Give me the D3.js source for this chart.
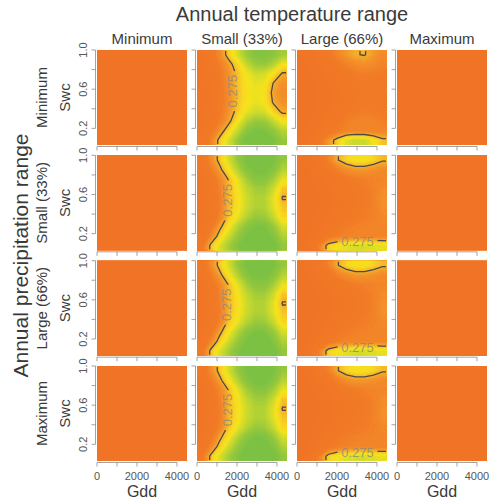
<!DOCTYPE html>
<html><head><meta charset="utf-8">
<script src="https://cdn.jsdelivr.net/npm/d3@7"></script>
<style>
html,body{margin:0;padding:0;background:#fff;}
svg{display:block;font-family:"Liberation Sans",Arial,sans-serif;}
</style></head>
<body><svg id="chart" width="494" height="500"></svg>
<script>
// ---------------- DATA ----------------
const tempRanges = ["Minimum", "Small (33%)", "Large (66%)", "Maximum"];
const precipRanges = ["Minimum", "Small (33%)", "Large (66%)", "Maximum"];
const gddDomain = [0, 4500];
const swcDomain = [0.03, 1.0];
const gddTicks = [0, 1000, 2000, 3000, 4000];
const gddTickLabels = [0, 2000, 4000];
const swcTicks = [0.2, 0.4, 0.6, 0.8, 1.0];
const swcTickLabels = [0.2, 0.6, 1.0];
const contourLevel = 0.275;
const xTitle = "Gdd", yTitle = "Swc";
const topTitle = "Annual temperature range";
const sideTitle = "Annual precipitation range";

// grids: rows from Swc high (top) to low (bottom), columns Gdd low to high
const gridFlat = [[0.205]];
const gridSmallTop = [
  [0.225,0.242,0.260,0.282,0.300,0.318,0.330,0.332,0.325,0.315],
  [0.222,0.236,0.252,0.268,0.285,0.305,0.318,0.320,0.310,0.292],
  [0.220,0.232,0.247,0.264,0.278,0.292,0.302,0.300,0.288,0.273],
  [0.218,0.230,0.245,0.262,0.279,0.290,0.296,0.293,0.274,0.264],
  [0.217,0.229,0.244,0.261,0.278,0.289,0.294,0.290,0.270,0.261],
  [0.217,0.229,0.244,0.262,0.279,0.290,0.295,0.291,0.273,0.264],
  [0.218,0.231,0.247,0.264,0.281,0.295,0.302,0.300,0.284,0.272],
  [0.221,0.236,0.252,0.270,0.290,0.310,0.320,0.318,0.306,0.290],
  [0.226,0.245,0.265,0.285,0.305,0.325,0.335,0.333,0.322,0.310],
  [0.232,0.255,0.280,0.300,0.320,0.340,0.350,0.347,0.335,0.320]
];
const gridSmall = [
  [0.235,0.260,0.280,0.300,0.320,0.335,0.345,0.345,0.335,0.320],
  [0.228,0.250,0.270,0.290,0.310,0.328,0.338,0.338,0.328,0.310],
  [0.222,0.240,0.258,0.276,0.295,0.315,0.327,0.327,0.315,0.295],
  [0.220,0.236,0.254,0.276,0.290,0.306,0.316,0.316,0.303,0.280],
  [0.218,0.234,0.252,0.276,0.288,0.302,0.311,0.310,0.296,0.274],
  [0.218,0.234,0.252,0.276,0.289,0.303,0.312,0.311,0.297,0.280],
  [0.220,0.237,0.255,0.280,0.294,0.310,0.320,0.318,0.305,0.285],
  [0.224,0.245,0.270,0.290,0.310,0.325,0.335,0.333,0.320,0.300],
  [0.232,0.258,0.282,0.302,0.320,0.335,0.345,0.343,0.330,0.312],
  [0.245,0.278,0.298,0.315,0.330,0.345,0.352,0.350,0.340,0.322]
];
const gridLargeTop = [
  [0.215,0.222,0.232,0.245,0.258,0.267,0.274,0.276,0.268,0.260],
  [0.212,0.218,0.226,0.236,0.246,0.255,0.261,0.263,0.260,0.255],
  [0.210,0.215,0.221,0.229,0.237,0.245,0.250,0.252,0.251,0.248],
  [0.208,0.212,0.218,0.225,0.232,0.239,0.244,0.246,0.246,0.245],
  [0.207,0.211,0.216,0.222,0.229,0.236,0.241,0.243,0.244,0.244],
  [0.207,0.211,0.217,0.223,0.231,0.238,0.243,0.245,0.246,0.245],
  [0.208,0.212,0.219,0.227,0.236,0.244,0.249,0.251,0.250,0.248],
  [0.210,0.215,0.223,0.233,0.243,0.252,0.257,0.258,0.256,0.252],
  [0.212,0.219,0.229,0.241,0.250,0.256,0.256,0.256,0.256,0.256],
  [0.215,0.228,0.245,0.266,0.282,0.298,0.305,0.304,0.292,0.279]
];
const gridLarge = [
  [0.213,0.222,0.236,0.255,0.274,0.284,0.290,0.290,0.284,0.277],
  [0.210,0.217,0.228,0.242,0.255,0.263,0.267,0.267,0.264,0.260],
  [0.208,0.213,0.220,0.230,0.240,0.247,0.251,0.253,0.255,0.257],
  [0.207,0.211,0.217,0.225,0.233,0.240,0.245,0.249,0.254,0.261],
  [0.206,0.210,0.215,0.222,0.230,0.237,0.242,0.247,0.254,0.263],
  [0.206,0.210,0.216,0.223,0.231,0.238,0.243,0.248,0.254,0.263],
  [0.207,0.212,0.219,0.228,0.237,0.244,0.248,0.251,0.254,0.259],
  [0.209,0.215,0.224,0.235,0.245,0.251,0.254,0.255,0.256,0.257],
  [0.211,0.219,0.232,0.245,0.252,0.255,0.256,0.256,0.256,0.256],
  [0.214,0.230,0.255,0.283,0.292,0.297,0.300,0.300,0.298,0.295]
];
// panel grid by [precipitation row][temperature column]
const panelGrids = [
  [gridFlat, gridSmallTop, gridLargeTop, gridFlat],
  [gridFlat, gridSmall, gridLarge, gridFlat],
  [gridFlat, gridSmall, gridLarge, gridFlat],
  [gridFlat, gridSmall, gridLarge, gridFlat]
];
// contour label spots (data coordinates)
const labelRows = [0, 1, 2, 3, 1, 2, 3];
const labelCols = [1, 1, 1, 1, 2, 2, 2];
const labelGdd  = [1775, 1500, 1450, 1520, 3025, 3025, 3025];
const labelSwc  = [0.58, 0.54, 0.55, 0.55, 0.125, 0.115, 0.112];
const labelAngle = [-90, -90, -90, -90, 0, 0, 0];

// colour ramp
const colorStops = [0.20, 0.25, 0.265, 0.275, 0.285, 0.292, 0.305, 0.32, 0.335];
const colorValues = ["#F07226","#F17B26","#F3922A","#F5B12B","#F8D822","#F4E31C","#C4D830","#96C83C","#7CC143"];

// ---------------- LAYOUT ----------------
const svg = d3.select("#chart");
const leftX = 97, topY = 50, panelW = 90, panelH = 95, colStep = 100, rowStep = 105.33;
const x = d3.scaleLinear().domain(gddDomain).range([0, panelW]);
const y = d3.scaleLinear().domain(swcDomain).range([panelH, 0]);
const color = d3.scaleLinear().domain(colorStops).range(colorValues).clamp(true);
const step = 0.0025;
const thresholds = d3.range(0.19, 0.36, step);
const textCol = "#3a3a3a", tickCol = "#8c8c8c";

// replicate edge cells so marching squares does not cut the panel corners
function padGrid(grid) {
  const rows = grid.map(r => [r[0], ...r, r[r.length - 1]]);
  return [rows[0], ...rows, rows[rows.length - 1]];
}

const defs = svg.append("defs");
defs.append("clipPath").attr("id", "inset")
  .append("rect").attr("x", 1).attr("y", 1).attr("width", panelW - 2).attr("height", panelH - 2);
defs.append("clipPath").attr("id", "full")
  .append("rect").attr("x", 0).attr("y", 0).attr("width", panelW).attr("height", panelH);

svg.append("text").attr("x", leftX + (3 * colStep + panelW) / 2).attr("y", 21)
  .attr("text-anchor", "middle").attr("font-size", 20).attr("fill", textCol).text(topTitle);
svg.append("text").attr("transform", `translate(28,${topY + (3 * rowStep + panelH) / 2}) rotate(-90)`)
  .attr("text-anchor", "middle").attr("font-size", 21).attr("fill", textCol).text(sideTitle);

tempRanges.forEach((t, c) => {
  svg.append("text").attr("x", leftX + c * colStep + panelW / 2).attr("y", 44)
    .attr("text-anchor", "middle").attr("font-size", 15).attr("fill", textCol).text(t);
});
precipRanges.forEach((p, r) => {
  const cy = topY + r * rowStep + panelH / 2;
  svg.append("text").attr("transform", `translate(47,${cy}) rotate(-90)`)
    .attr("text-anchor", "middle").attr("font-size", 15).attr("fill", textCol).text(p);
  svg.append("text").attr("transform", `translate(70,${cy}) rotate(-90)`)
    .attr("text-anchor", "middle").attr("font-size", 15).attr("fill", textCol).text(yTitle);
});

panelGrids.forEach((rowGrids, r) => {
  rowGrids.forEach((grid, c) => {
    const g = svg.append("g").attr("transform", `translate(${leftX + c * colStep},${topY + r * rowStep})`);
    const ny = grid.length, nx = grid[0].length;
    const padded = padGrid(grid);
    const values = padded.flat();
    const gx = d3.scaleLinear().domain([1, nx + 1]).range(gddDomain);
    const gy = d3.scaleLinear().domain([1, ny + 1]).range([swcDomain[1], swcDomain[0]]);
    const proj = d3.geoTransform({ point(px, py) { this.stream.point(x(gx(px)), y(gy(py))); } });
    const path = d3.geoPath(proj);
    const bands = d3.contours().size([nx + 2, ny + 2]).thresholds(thresholds)(values);
    g.append("g").attr("clip-path", "url(#full)")
      .selectAll("path").data(bands.filter(b => b.coordinates.length)).join("path")
      .attr("d", path).attr("fill", d => color(d.value + step / 2)).attr("stroke", "none");

    // contour line with gap at label
    const li = labelRows.map((lr, i) => i).filter(i => labelRows[i] === r && labelCols[i] === c);
    const lineLevel = d3.contours().size([nx + 2, ny + 2]).thresholds([contourLevel])(values).filter(b => b.coordinates.length);
    if (lineLevel.length) {
      const mid = `m${r}${c}`;
      const mask = defs.append("mask").attr("id", mid).attr("maskUnits", "userSpaceOnUse")
        .attr("x", -5).attr("y", -5).attr("width", panelW + 10).attr("height", panelH + 10);
      mask.append("rect").attr("x", -5).attr("y", -5).attr("width", panelW + 10).attr("height", panelH + 10).attr("fill", "#fff");
      li.forEach(i => {
        mask.append("rect").attr("transform", `translate(${x(labelGdd[i])},${y(labelSwc[i])}) rotate(${labelAngle[i]})`)
          .attr("x", -20).attr("y", -6).attr("width", 40).attr("height", 12).attr("fill", "#000");
      });
      g.append("g").attr("clip-path", "url(#inset)")
        .append("path").datum(lineLevel[0]).attr("d", path)
        .attr("fill", "none").attr("stroke", "#4a4a4a").attr("stroke-width", 1.3)
        .attr("mask", `url(#${mid})`);
      li.forEach(i => {
        g.append("text").attr("transform", `translate(${x(labelGdd[i])},${y(labelSwc[i])}) rotate(${labelAngle[i]})`)
          .attr("text-anchor", "middle").attr("dominant-baseline", "central")
          .attr("font-size", 13).attr("fill", "#8a8a80").attr("fill-opacity", 0.8).text(String(contourLevel));
      });
    }

    // axes ticks
    const ax = g.append("g").attr("stroke", tickCol).attr("stroke-width", 0.8).attr("fill", "none");
    ax.append("line").attr("x1", x(gddTicks[0])).attr("x2", x(gddTicks[gddTicks.length - 1]))
      .attr("y1", panelH + 1.5).attr("y2", panelH + 1.5);
    gddTicks.forEach(t => ax.append("line").attr("x1", x(t)).attr("x2", x(t)).attr("y1", panelH + 1.5).attr("y2", panelH + 5.5));
    ax.append("line").attr("y1", y(swcTicks[0])).attr("y2", y(swcTicks[swcTicks.length - 1]))
      .attr("x1", -1.5).attr("x2", -1.5);
    swcTicks.forEach(t => ax.append("line").attr("y1", y(t)).attr("y2", y(t)).attr("x1", -1.5).attr("x2", -5.5));

    if (c === 0) {
      swcTickLabels.forEach(t => {
        g.append("text").attr("transform", `translate(-10,${y(t)}) rotate(-90)`)
          .attr("text-anchor", "middle").attr("font-size", 11).attr("fill", "#555").text(t.toFixed(1));
      });
    }
    if (r === 3) {
      gddTickLabels.forEach(t => {
        g.append("text").attr("x", x(t)).attr("y", panelH + 19)
          .attr("text-anchor", "middle").attr("font-size", 11).attr("fill", "#555").text(t);
      });
      g.append("text").attr("x", panelW / 2).attr("y", panelH + 36)
        .attr("text-anchor", "middle").attr("font-size", 16).attr("fill", textCol).text(xTitle);
    }
  });
});
</script></body></html>
